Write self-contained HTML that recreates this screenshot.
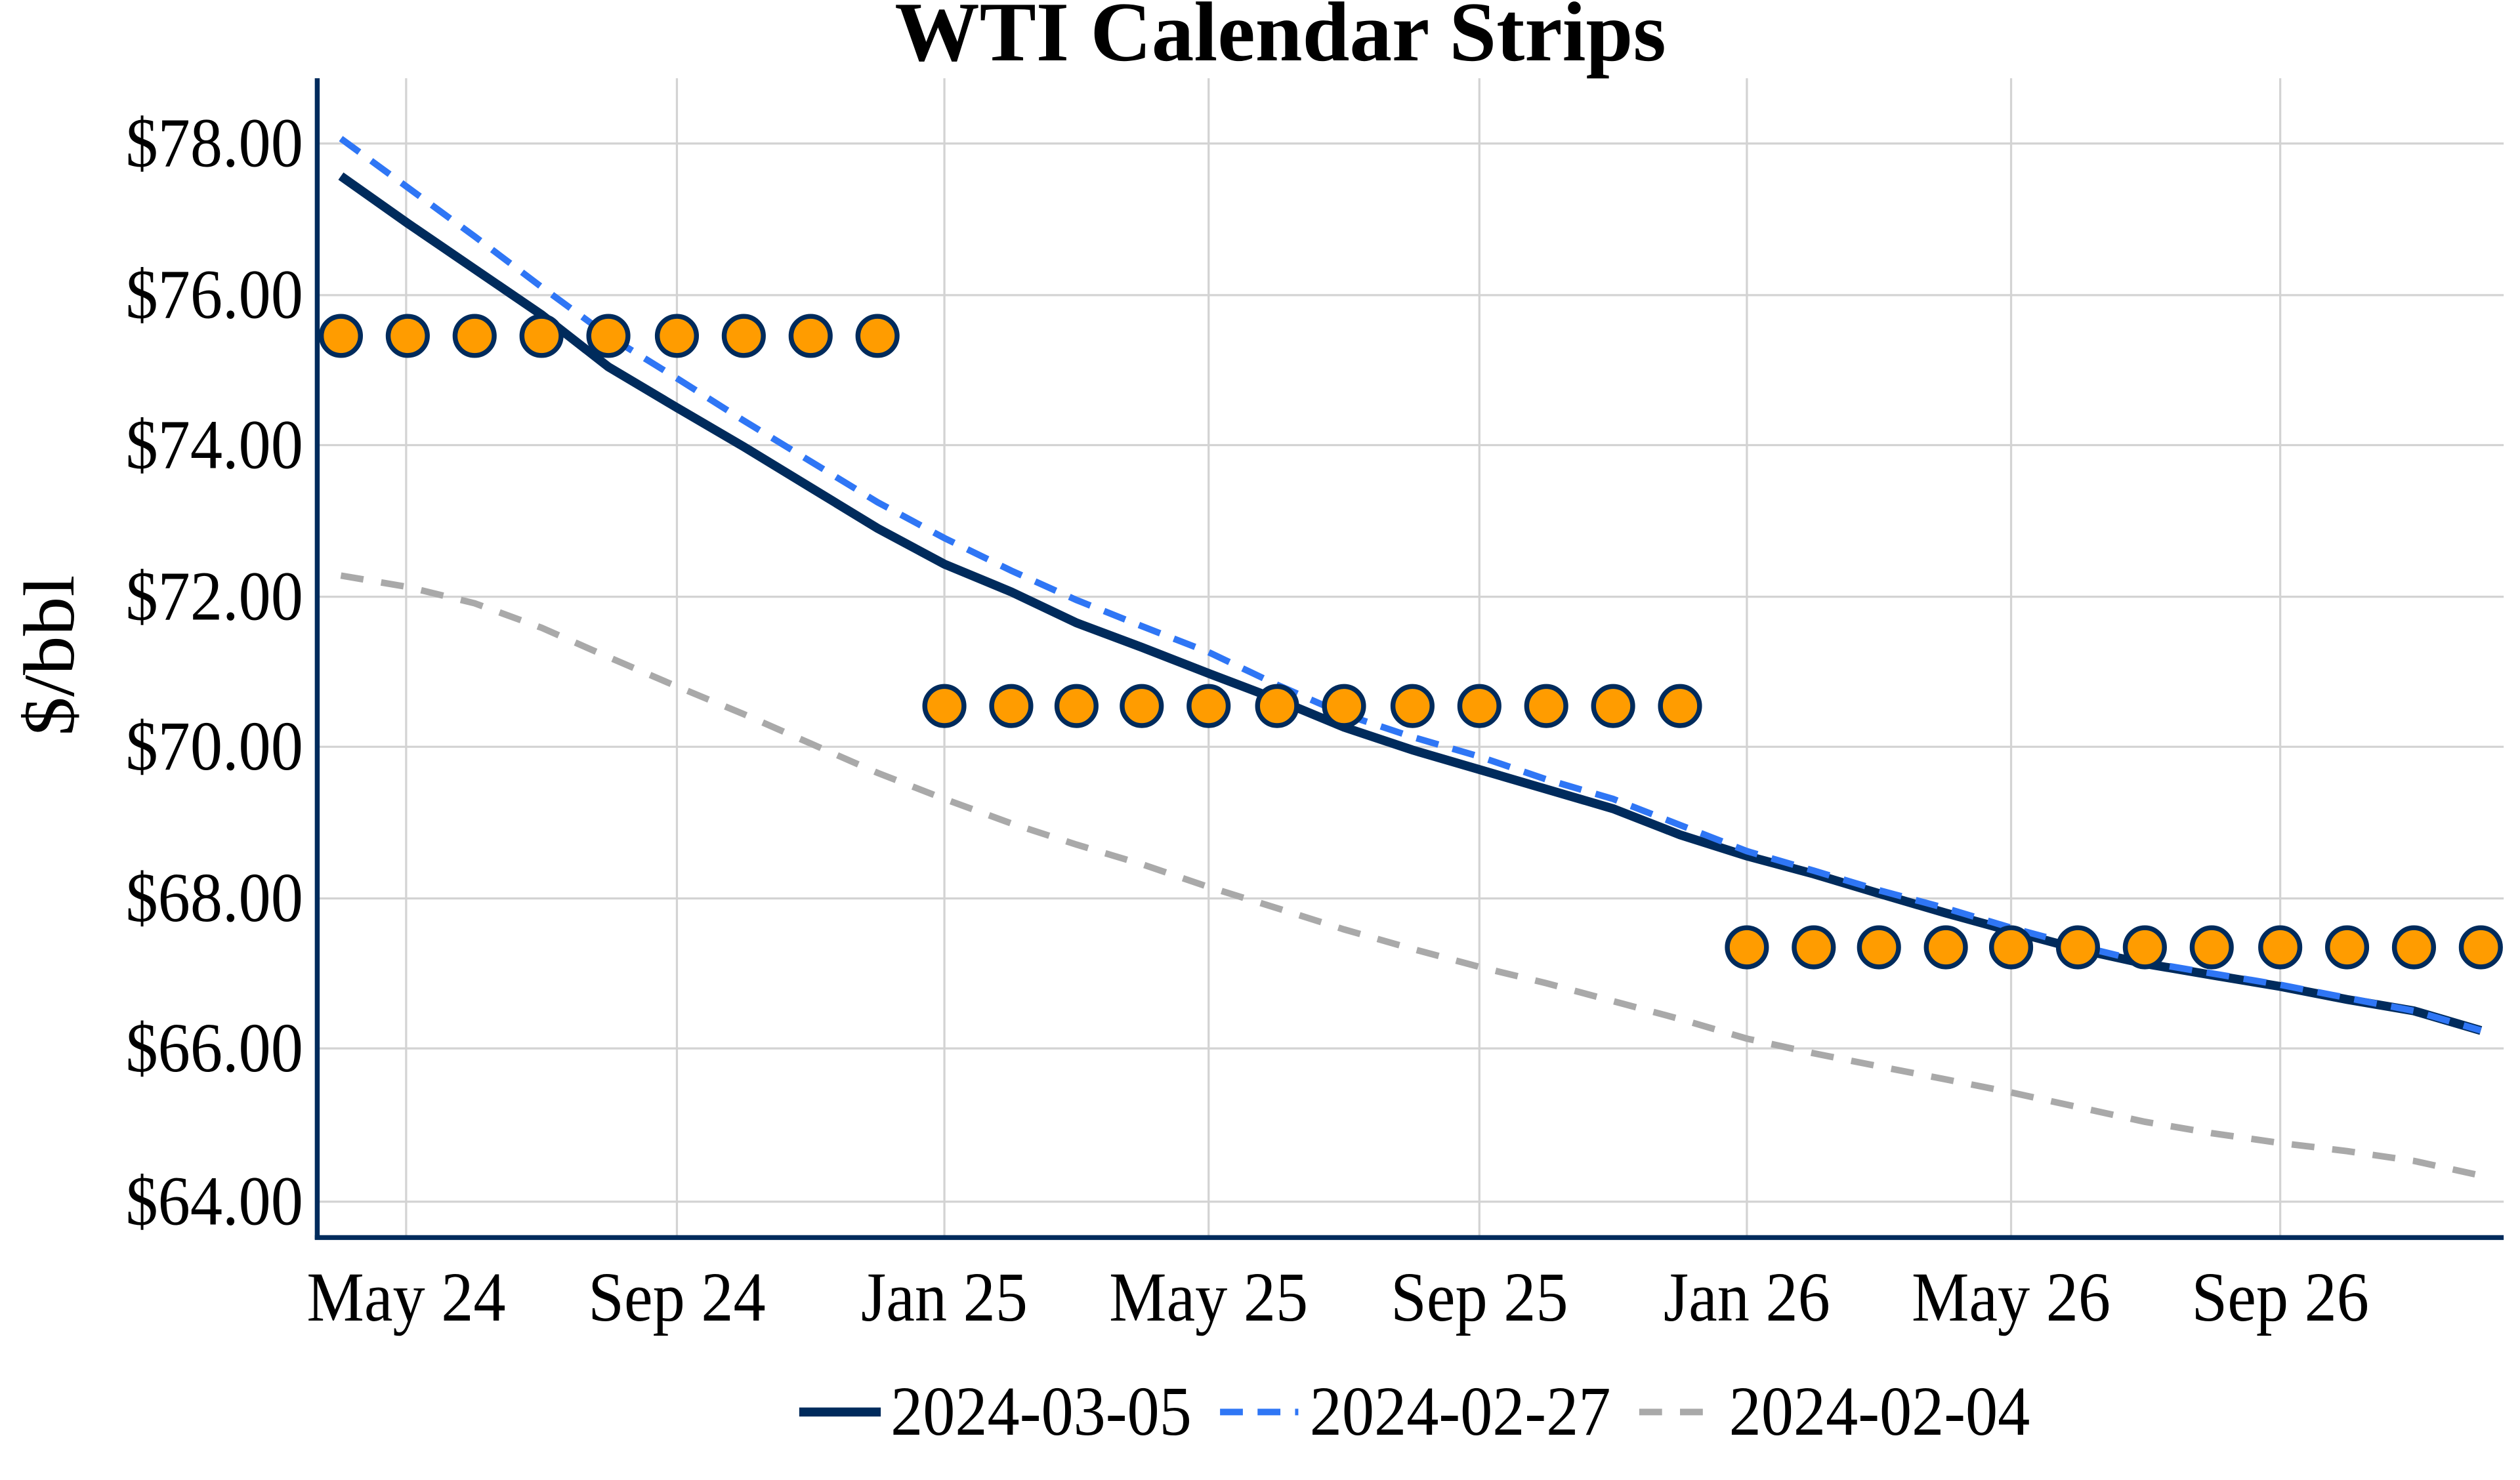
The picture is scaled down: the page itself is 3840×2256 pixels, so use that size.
<!DOCTYPE html>
<html><head><meta charset="utf-8"><style>
html,body{margin:0;padding:0;background:#fff;}
svg{display:block;}
text{font-family:"Liberation Serif",serif;fill:#000;}
</style></head><body>
<svg width="3840" height="2256" viewBox="0 0 1545 907.7" preserveAspectRatio="none" xmlns="http://www.w3.org/2000/svg">
<rect x="0" y="0" width="1545" height="908" fill="#fff"/>
<text x="785" y="37" font-size="52" font-weight="bold" text-anchor="middle" transform="translate(785,0) scale(1,1) translate(-785,0)">WTI Calendar Strips</text>
<g stroke="#d3d3d3" stroke-width="1.3">
<line x1="195" y1="88" x2="1535" y2="88"/><line x1="195" y1="181" x2="1535" y2="181"/>
<line x1="195" y1="273" x2="1535" y2="273"/><line x1="195" y1="366" x2="1535" y2="366"/>
<line x1="195" y1="458" x2="1535" y2="458"/><line x1="195" y1="551" x2="1535" y2="551"/>
<line x1="195" y1="643" x2="1535" y2="643"/><line x1="195" y1="737" x2="1535" y2="737"/>
<line x1="249" y1="48" x2="249" y2="759"/><line x1="415" y1="48" x2="415" y2="759"/>
<line x1="579" y1="48" x2="579" y2="759"/><line x1="741" y1="48" x2="741" y2="759"/>
<line x1="907" y1="48" x2="907" y2="759"/><line x1="1071" y1="48" x2="1071" y2="759"/>
<line x1="1233" y1="48" x2="1233" y2="759"/><line x1="1398" y1="48" x2="1398" y2="759"/>
</g>
<g font-size="43" text-anchor="end" transform="scale(0.92,1)">
<text x="202" y="102">$78.00</text><text x="202" y="195">$76.00</text>
<text x="202" y="287">$74.00</text><text x="202" y="380">$72.00</text>
<text x="202" y="472">$70.00</text><text x="202" y="565">$68.00</text>
<text x="202" y="657">$66.00</text><text x="202" y="751">$64.00</text>
</g>
<g font-size="43" text-anchor="middle" transform="scale(0.92,1)">
<text x="270.7" y="810">May 24</text><text x="451.1" y="810">Sep 24</text>
<text x="629.3" y="810">Jan 25</text><text x="805.4" y="810">May 25</text>
<text x="985.9" y="810">Sep 25</text><text x="1164.1" y="810">Jan 26</text>
<text x="1340.2" y="810">May 26</text><text x="1519.6" y="810">Sep 26</text>
</g>
<text transform="translate(45,402) rotate(-90) scale(1,0.92)" font-size="48" text-anchor="middle">$/bbl</text>
<polyline fill="none" stroke="#a9a9a9" stroke-width="4" stroke-dasharray="14,11" points="209,353 250,360 291,370 332,385 373,403 415,421 456,438 497,456 538,474 579,490 620,505 660,518 700,530 741,544 783,557 824,570 866,582 907,593 948,603 989,614 1030,625 1071,637 1112,646 1152,654 1193,662 1233,670 1274,679 1315,688 1356,695 1398,701 1439,706 1480,712 1521,721"/>
<polyline fill="none" stroke="#002b5c" stroke-width="5.5" points="209,108 250,137 291,165 332,193 373,225 415,250 456,274 497,299 538,324 579,346 620,363 660,382 700,397 741,413 783,429 824,446 866,460 907,472 948,484 989,496 1030,512 1071,525 1112,536 1152,548 1193,560 1233,571 1274,582 1315,591 1356,598 1398,605 1439,613 1480,620 1521,632"/>
<polyline fill="none" stroke="#2f76f5" stroke-width="4" stroke-dasharray="14,9" points="209,85 250,115 291,145 332,176 373,206 415,232 456,258 497,283 538,308 579,330 620,350 660,368 700,384 741,400 783,420 824,438 866,452 907,464 948,478 989,490 1030,506 1071,522 1112,534 1152,546 1193,557 1233,569 1274,580 1315,590 1356,597 1398,604 1439,612 1480,620 1521,632"/>
<g fill="#ff9c00" stroke="#002b5c" stroke-width="3">
<circle cx="209" cy="206" r="12"/><circle cx="250" cy="206" r="12"/><circle cx="291" cy="206" r="12"/><circle cx="332" cy="206" r="12"/><circle cx="373" cy="206" r="12"/><circle cx="415" cy="206" r="12"/><circle cx="456" cy="206" r="12"/><circle cx="497" cy="206" r="12"/><circle cx="538" cy="206" r="12"/>
<circle cx="579" cy="433" r="12"/><circle cx="620" cy="433" r="12"/><circle cx="660" cy="433" r="12"/><circle cx="700" cy="433" r="12"/><circle cx="741" cy="433" r="12"/><circle cx="783" cy="433" r="12"/><circle cx="824" cy="433" r="12"/><circle cx="866" cy="433" r="12"/><circle cx="907" cy="433" r="12"/><circle cx="948" cy="433" r="12"/><circle cx="989" cy="433" r="12"/><circle cx="1030" cy="433" r="12"/>
<circle cx="1071" cy="581" r="12"/><circle cx="1112" cy="581" r="12"/><circle cx="1152" cy="581" r="12"/><circle cx="1193" cy="581" r="12"/><circle cx="1233" cy="581" r="12"/><circle cx="1274" cy="581" r="12"/><circle cx="1315" cy="581" r="12"/><circle cx="1356" cy="581" r="12"/><circle cx="1398" cy="581" r="12"/><circle cx="1439" cy="581" r="12"/><circle cx="1480" cy="581" r="12"/><circle cx="1521" cy="581" r="12"/>
</g>
<line x1="194.5" y1="48" x2="194.5" y2="760" stroke="#002b5c" stroke-width="3"/>
<line x1="193" y1="759" x2="1535" y2="759" stroke="#002b5c" stroke-width="3"/>
<line x1="490" y1="866" x2="540" y2="866" stroke="#002b5c" stroke-width="5.5"/>
<line x1="748" y1="866" x2="796" y2="866" stroke="#2f76f5" stroke-width="4" stroke-dasharray="14,9"/>
<line x1="1005" y1="866" x2="1050" y2="866" stroke="#a9a9a9" stroke-width="4" stroke-dasharray="14,11"/>
<g font-size="43" transform="scale(0.92,1)">
<text x="593.5" y="880">2024-03-05</text>
<text x="872.8" y="880">2024-02-27</text>
<text x="1152.2" y="880">2024-02-04</text>
</g>
</svg>
</body></html>
